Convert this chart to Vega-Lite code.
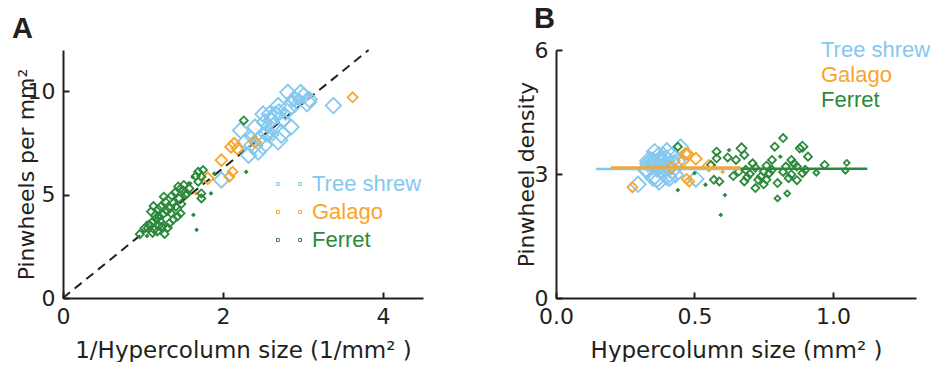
{
  "$schema": "https://vega.github.io/schema/vega-lite/v6.json",
  "background": "white",
  "padding": {"left": 12, "top": 5, "right": 0, "bottom": 0},
  "spacing": 92,
  "config": {
    "view": {"stroke": null},
    "axis": {
      "grid": false,
      "domainColor": "#231f20",
      "domainWidth": 2,
      "tickColor": "#231f20",
      "tickWidth": 2,
      "tickSize": -6,
      "labelFlush": false,
      "labelFont": "DejaVu Sans",
      "labelFontSize": 22,
      "labelColor": "#231f20",
      "titleFont": "DejaVu Sans",
      "titleFontSize": 22,
      "titleFontWeight": "normal",
      "titleColor": "#231f20",
      "labelPadding": 14
    },
    "title": {"font": "Liberation Sans", "fontSize": 29, "fontWeight": "bold", "color": "#231f20", "anchor": "start", "frame": "group"}
  },
  "datasets": {
    "lineA": [{"x": 0, "y": 0}, {"x": 3.82, "y": 12}],
    "fitB": [
      {"species": "Ferret", "x": 0.66, "y": 3.13},
      {"species": "Ferret", "x": 1.124, "y": 3.13},
      {"species": "Tree shrew", "x": 0.144, "y": 3.12},
      {"species": "Tree shrew", "x": 0.667, "y": 3.12},
      {"species": "Galago", "x": 0.198, "y": 3.16},
      {"species": "Galago", "x": 0.667, "y": 3.16}
    ],
    "pointsA": [
      {"species": "Tree shrew", "x": 3.38, "y": 9.31, "w": 4},
      {"species": "Tree shrew", "x": 2.97, "y": 9.87, "w": 5},
      {"species": "Tree shrew", "x": 3.05, "y": 9.47, "w": 5},
      {"species": "Tree shrew", "x": 2.89, "y": 9.63, "w": 4},
      {"species": "Tree shrew", "x": 2.81, "y": 9.15, "w": 5},
      {"species": "Tree shrew", "x": 2.69, "y": 9.31, "w": 4},
      {"species": "Tree shrew", "x": 2.65, "y": 8.83, "w": 5},
      {"species": "Tree shrew", "x": 2.75, "y": 8.59, "w": 4},
      {"species": "Tree shrew", "x": 2.50, "y": 8.90, "w": 4},
      {"species": "Tree shrew", "x": 2.63, "y": 8.27, "w": 5},
      {"species": "Tree shrew", "x": 2.73, "y": 7.95, "w": 5},
      {"species": "Tree shrew", "x": 2.85, "y": 8.27, "w": 4},
      {"species": "Tree shrew", "x": 2.69, "y": 7.63, "w": 5},
      {"species": "Tree shrew", "x": 2.54, "y": 7.95, "w": 4},
      {"species": "Tree shrew", "x": 2.46, "y": 7.71, "w": 4},
      {"species": "Tree shrew", "x": 2.38, "y": 7.39, "w": 5},
      {"species": "Tree shrew", "x": 2.44, "y": 7.07, "w": 4},
      {"species": "Tree shrew", "x": 2.32, "y": 6.91, "w": 4},
      {"species": "Tree shrew", "x": 2.28, "y": 7.55, "w": 4},
      {"species": "Tree shrew", "x": 2.22, "y": 8.11, "w": 4},
      {"species": "Tree shrew", "x": 2.40, "y": 8.27, "w": 4},
      {"species": "Tree shrew", "x": 1.98, "y": 5.71, "w": 4},
      {"species": "Tree shrew", "x": 2.52, "y": 8.51, "w": 4},
      {"species": "Tree shrew", "x": 3.01, "y": 9.79, "w": 4},
      {"species": "Tree shrew", "x": 2.81, "y": 9.95, "w": 4},
      {"species": "Tree shrew", "x": 2.60, "y": 8.60, "w": 4},
      {"species": "Tree shrew", "x": 2.70, "y": 9.00, "w": 4},
      {"species": "Tree shrew", "x": 2.78, "y": 8.90, "w": 3},
      {"species": "Tree shrew", "x": 2.90, "y": 9.30, "w": 3},
      {"species": "Tree shrew", "x": 2.55, "y": 8.30, "w": 3},
      {"species": "Tree shrew", "x": 2.35, "y": 7.80, "w": 3},
      {"species": "Tree shrew", "x": 2.50, "y": 7.40, "w": 5},
      {"species": "Tree shrew", "x": 2.62, "y": 7.90, "w": 3},
      {"species": "Tree shrew", "x": 2.95, "y": 9.60, "w": 3},
      {"species": "Tree shrew", "x": 3.08, "y": 9.60, "w": 4},
      {"species": "Tree shrew", "x": 2.85, "y": 9.50, "w": 3},
      {"species": "Tree shrew", "x": 2.58, "y": 8.90, "w": 4},
      {"species": "Galago", "x": 3.62, "y": 9.71, "w": 2.5},
      {"species": "Galago", "x": 2.14, "y": 7.47, "w": 3},
      {"species": "Galago", "x": 2.10, "y": 7.31, "w": 3},
      {"species": "Galago", "x": 2.18, "y": 7.23, "w": 3},
      {"species": "Galago", "x": 2.40, "y": 7.55, "w": 3},
      {"species": "Galago", "x": 1.98, "y": 6.67, "w": 3},
      {"species": "Galago", "x": 2.12, "y": 6.11, "w": 2.5},
      {"species": "Galago", "x": 2.08, "y": 5.87, "w": 2.5},
      {"species": "Galago", "x": 1.81, "y": 5.79, "w": 3},
      {"species": "Galago", "x": 1.66, "y": 5.06, "w": 1},
      {"species": "Ferret", "x": 0.96, "y": 3.09, "w": 2},
      {"species": "Ferret", "x": 1.02, "y": 3.38, "w": 2},
      {"species": "Ferret", "x": 1.06, "y": 3.38, "w": 2},
      {"species": "Ferret", "x": 1.12, "y": 3.70, "w": 2},
      {"species": "Ferret", "x": 1.10, "y": 4.18, "w": 2},
      {"species": "Ferret", "x": 1.20, "y": 3.94, "w": 2},
      {"species": "Ferret", "x": 1.22, "y": 4.42, "w": 2},
      {"species": "Ferret", "x": 1.26, "y": 4.90, "w": 2},
      {"species": "Ferret", "x": 1.28, "y": 4.66, "w": 2},
      {"species": "Ferret", "x": 1.18, "y": 3.22, "w": 2},
      {"species": "Ferret", "x": 1.24, "y": 3.46, "w": 2},
      {"species": "Ferret", "x": 1.33, "y": 3.62, "w": 2},
      {"species": "Ferret", "x": 1.35, "y": 4.10, "w": 2},
      {"species": "Ferret", "x": 1.41, "y": 4.42, "w": 2},
      {"species": "Ferret", "x": 1.45, "y": 4.82, "w": 2},
      {"species": "Ferret", "x": 1.47, "y": 5.30, "w": 2},
      {"species": "Ferret", "x": 1.51, "y": 5.47, "w": 2},
      {"species": "Ferret", "x": 1.53, "y": 4.99, "w": 2},
      {"species": "Ferret", "x": 1.43, "y": 3.94, "w": 2},
      {"species": "Ferret", "x": 1.47, "y": 4.10, "w": 2},
      {"species": "Ferret", "x": 1.57, "y": 5.54, "w": 1},
      {"species": "Ferret", "x": 1.73, "y": 5.06, "w": 2},
      {"species": "Ferret", "x": 1.73, "y": 5.87, "w": 2},
      {"species": "Ferret", "x": 1.69, "y": 6.11, "w": 2},
      {"species": "Ferret", "x": 1.75, "y": 6.19, "w": 2},
      {"species": "Ferret", "x": 1.69, "y": 5.63, "w": 2},
      {"species": "Ferret", "x": 1.63, "y": 4.02, "w": 1},
      {"species": "Ferret", "x": 1.67, "y": 3.30, "w": 1},
      {"species": "Ferret", "x": 1.85, "y": 5.06, "w": 1},
      {"species": "Ferret", "x": 1.59, "y": 5.54, "w": 1},
      {"species": "Ferret", "x": 1.73, "y": 4.82, "w": 2},
      {"species": "Ferret", "x": 1.89, "y": 6.02, "w": 1},
      {"species": "Ferret", "x": 2.26, "y": 8.59, "w": 2},
      {"species": "Ferret", "x": 2.29, "y": 6.10, "w": 1},
      {"species": "Ferret", "x": 1.00, "y": 3.20, "w": 1},
      {"species": "Ferret", "x": 1.08, "y": 3.55, "w": 2},
      {"species": "Ferret", "x": 1.14, "y": 3.30, "w": 2},
      {"species": "Ferret", "x": 1.16, "y": 3.85, "w": 2},
      {"species": "Ferret", "x": 1.19, "y": 4.30, "w": 2},
      {"species": "Ferret", "x": 1.22, "y": 3.70, "w": 2},
      {"species": "Ferret", "x": 1.30, "y": 4.20, "w": 2},
      {"species": "Ferret", "x": 1.31, "y": 3.40, "w": 2},
      {"species": "Ferret", "x": 1.15, "y": 4.00, "w": 2},
      {"species": "Ferret", "x": 1.38, "y": 4.60, "w": 2},
      {"species": "Ferret", "x": 1.40, "y": 5.10, "w": 2},
      {"species": "Ferret", "x": 1.48, "y": 4.55, "w": 2},
      {"species": "Ferret", "x": 1.50, "y": 5.20, "w": 2},
      {"species": "Ferret", "x": 1.55, "y": 5.05, "w": 2},
      {"species": "Ferret", "x": 1.44, "y": 5.40, "w": 2},
      {"species": "Ferret", "x": 1.38, "y": 3.80, "w": 2},
      {"species": "Ferret", "x": 1.27, "y": 3.10, "w": 2},
      {"species": "Ferret", "x": 1.12, "y": 3.15, "w": 2},
      {"species": "Ferret", "x": 1.05, "y": 3.65, "w": 1},
      {"species": "Ferret", "x": 1.36, "y": 4.95, "w": 2},
      {"species": "Ferret", "x": 1.66, "y": 5.90, "w": 2},
      {"species": "Ferret", "x": 1.62, "y": 5.85, "w": 1},
      {"species": "Ferret", "x": 1.58, "y": 5.30, "w": 2},
      {"species": "Ferret", "x": 1.25, "y": 4.05, "w": 2},
      {"species": "Ferret", "x": 1.33, "y": 4.35, "w": 2},
      {"species": "Ferret", "x": 1.13, "y": 4.45, "w": 2},
      {"species": "Ferret", "x": 1.05, "y": 3.00, "w": 1},
      {"species": "Ferret", "x": 1.20, "y": 3.50, "w": 2}
    ],
    "pointsB": [
      {"species": "Tree shrew", "x": 0.296, "y": 2.75, "w": 4},
      {"species": "Tree shrew", "x": 0.337, "y": 3.32, "w": 5},
      {"species": "Tree shrew", "x": 0.328, "y": 3.10, "w": 5},
      {"species": "Tree shrew", "x": 0.346, "y": 3.33, "w": 4},
      {"species": "Tree shrew", "x": 0.356, "y": 3.26, "w": 5},
      {"species": "Tree shrew", "x": 0.372, "y": 3.46, "w": 4},
      {"species": "Tree shrew", "x": 0.377, "y": 3.33, "w": 5},
      {"species": "Tree shrew", "x": 0.364, "y": 3.12, "w": 4},
      {"species": "Tree shrew", "x": 0.400, "y": 3.56, "w": 4},
      {"species": "Tree shrew", "x": 0.380, "y": 3.14, "w": 5},
      {"species": "Tree shrew", "x": 0.366, "y": 2.91, "w": 5},
      {"species": "Tree shrew", "x": 0.351, "y": 2.90, "w": 4},
      {"species": "Tree shrew", "x": 0.372, "y": 2.84, "w": 5},
      {"species": "Tree shrew", "x": 0.394, "y": 3.13, "w": 4},
      {"species": "Tree shrew", "x": 0.407, "y": 3.13, "w": 4},
      {"species": "Tree shrew", "x": 0.420, "y": 3.11, "w": 5},
      {"species": "Tree shrew", "x": 0.410, "y": 2.90, "w": 4},
      {"species": "Tree shrew", "x": 0.431, "y": 2.98, "w": 4},
      {"species": "Tree shrew", "x": 0.439, "y": 3.31, "w": 4},
      {"species": "Tree shrew", "x": 0.450, "y": 3.65, "w": 4},
      {"species": "Tree shrew", "x": 0.417, "y": 3.45, "w": 4},
      {"species": "Tree shrew", "x": 0.505, "y": 2.88, "w": 4},
      {"species": "Tree shrew", "x": 0.397, "y": 3.38, "w": 4},
      {"species": "Tree shrew", "x": 0.332, "y": 3.25, "w": 4},
      {"species": "Tree shrew", "x": 0.356, "y": 3.54, "w": 4},
      {"species": "Tree shrew", "x": 0.385, "y": 3.31, "w": 4},
      {"species": "Tree shrew", "x": 0.370, "y": 3.33, "w": 4},
      {"species": "Tree shrew", "x": 0.360, "y": 3.20, "w": 3},
      {"species": "Tree shrew", "x": 0.345, "y": 3.21, "w": 3},
      {"species": "Tree shrew", "x": 0.392, "y": 3.25, "w": 3},
      {"species": "Tree shrew", "x": 0.426, "y": 3.32, "w": 3},
      {"species": "Tree shrew", "x": 0.400, "y": 2.96, "w": 5},
      {"species": "Tree shrew", "x": 0.382, "y": 3.02, "w": 3},
      {"species": "Tree shrew", "x": 0.339, "y": 3.25, "w": 3},
      {"species": "Tree shrew", "x": 0.325, "y": 3.12, "w": 4},
      {"species": "Tree shrew", "x": 0.351, "y": 3.33, "w": 3},
      {"species": "Tree shrew", "x": 0.388, "y": 3.45, "w": 4},
      {"species": "Galago", "x": 0.276, "y": 2.68, "w": 2.5},
      {"species": "Galago", "x": 0.467, "y": 3.49, "w": 3},
      {"species": "Galago", "x": 0.476, "y": 3.48, "w": 3},
      {"species": "Galago", "x": 0.459, "y": 3.32, "w": 3},
      {"species": "Galago", "x": 0.417, "y": 3.15, "w": 3},
      {"species": "Galago", "x": 0.505, "y": 3.37, "w": 3},
      {"species": "Galago", "x": 0.472, "y": 2.88, "w": 2.5},
      {"species": "Galago", "x": 0.481, "y": 2.82, "w": 2.5},
      {"species": "Galago", "x": 0.552, "y": 3.20, "w": 3},
      {"species": "Galago", "x": 0.602, "y": 3.05, "w": 1},
      {"species": "Ferret", "x": 0.44, "y": 3.66, "w": 2},
      {"species": "Ferret", "x": 0.44, "y": 2.61, "w": 1},
      {"species": "Ferret", "x": 0.50, "y": 3.02, "w": 1},
      {"species": "Ferret", "x": 0.54, "y": 2.74, "w": 1},
      {"species": "Ferret", "x": 0.58, "y": 3.54, "w": 2},
      {"species": "Ferret", "x": 0.58, "y": 3.38, "w": 2},
      {"species": "Ferret", "x": 0.57, "y": 2.86, "w": 2},
      {"species": "Ferret", "x": 0.59, "y": 2.82, "w": 2},
      {"species": "Ferret", "x": 0.56, "y": 3.22, "w": 2},
      {"species": "Ferret", "x": 0.625, "y": 3.58, "w": 1},
      {"species": "Ferret", "x": 0.61, "y": 2.49, "w": 1},
      {"species": "Ferret", "x": 0.595, "y": 2.01, "w": 1},
      {"species": "Ferret", "x": 0.67, "y": 3.62, "w": 2.5},
      {"species": "Ferret", "x": 0.65, "y": 3.34, "w": 2},
      {"species": "Ferret", "x": 0.68, "y": 3.46, "w": 2},
      {"species": "Ferret", "x": 0.66, "y": 3.06, "w": 2},
      {"species": "Ferret", "x": 0.685, "y": 3.10, "w": 2},
      {"species": "Ferret", "x": 0.68, "y": 2.82, "w": 2},
      {"species": "Ferret", "x": 0.71, "y": 3.26, "w": 2},
      {"species": "Ferret", "x": 0.72, "y": 2.66, "w": 2},
      {"species": "Ferret", "x": 0.74, "y": 2.94, "w": 2},
      {"species": "Ferret", "x": 0.75, "y": 3.06, "w": 2},
      {"species": "Ferret", "x": 0.73, "y": 2.86, "w": 2},
      {"species": "Ferret", "x": 0.76, "y": 2.86, "w": 2},
      {"species": "Ferret", "x": 0.78, "y": 3.34, "w": 2},
      {"species": "Ferret", "x": 0.79, "y": 3.66, "w": 2},
      {"species": "Ferret", "x": 0.82, "y": 3.87, "w": 2},
      {"species": "Ferret", "x": 0.77, "y": 3.02, "w": 2},
      {"species": "Ferret", "x": 0.80, "y": 2.41, "w": 1.5},
      {"species": "Ferret", "x": 0.81, "y": 3.42, "w": 1},
      {"species": "Ferret", "x": 0.80, "y": 2.78, "w": 2},
      {"species": "Ferret", "x": 0.835, "y": 2.53, "w": 1.5},
      {"species": "Ferret", "x": 0.83, "y": 3.18, "w": 2},
      {"species": "Ferret", "x": 0.85, "y": 3.34, "w": 2},
      {"species": "Ferret", "x": 0.85, "y": 2.99, "w": 2},
      {"species": "Ferret", "x": 0.87, "y": 3.18, "w": 2},
      {"species": "Ferret", "x": 0.88, "y": 3.62, "w": 2},
      {"species": "Ferret", "x": 0.89, "y": 3.66, "w": 2.5},
      {"species": "Ferret", "x": 0.89, "y": 3.02, "w": 2},
      {"species": "Ferret", "x": 0.91, "y": 3.42, "w": 2},
      {"species": "Ferret", "x": 0.94, "y": 3.03, "w": 1.5},
      {"species": "Ferret", "x": 0.97, "y": 3.22, "w": 2},
      {"species": "Ferret", "x": 1.045, "y": 3.08, "w": 1.5},
      {"species": "Ferret", "x": 1.05, "y": 3.27, "w": 1.5},
      {"species": "Ferret", "x": 0.84, "y": 2.90, "w": 2},
      {"species": "Ferret", "x": 0.70, "y": 3.00, "w": 2},
      {"species": "Ferret", "x": 0.75, "y": 2.75, "w": 2},
      {"species": "Ferret", "x": 0.78, "y": 3.10, "w": 2},
      {"species": "Ferret", "x": 0.86, "y": 3.25, "w": 2},
      {"species": "Ferret", "x": 0.72, "y": 3.15, "w": 2},
      {"species": "Ferret", "x": 0.62, "y": 3.40, "w": 2},
      {"species": "Ferret", "x": 0.64, "y": 2.95, "w": 2},
      {"species": "Ferret", "x": 0.82, "y": 3.05, "w": 2},
      {"species": "Ferret", "x": 0.90, "y": 3.10, "w": 2},
      {"species": "Ferret", "x": 0.76, "y": 3.20, "w": 2},
      {"species": "Ferret", "x": 0.69, "y": 2.92, "w": 2},
      {"species": "Ferret", "x": 0.87, "y": 2.85, "w": 2}
    ]
  },
  "resolve": {"scale": {"color": "shared", "size": "shared"}, "legend": {"color": "independent"}},
  "hconcat": [
    {
      "width": 360,
      "height": 248,
      "title": {"text": "A", "dx": -51, "offset": 2},
      "layer": [
        {
          "data": {"name": "lineA"},
          "mark": {"type": "line", "color": "#231f20", "strokeDash": [9, 6], "strokeWidth": 2},
          "encoding": {
            "x": {"field": "x", "type": "quantitative", "scale": {"domain": [0, 4.4]}, "axis": {"values": [0, 2, 4], "format": "d", "title": "1/Hypercolumn size (1/mm² )", "titleFontSize": 23, "titlePadding": 12}},
            "y": {"field": "y", "type": "quantitative", "scale": {"domain": [0, 12]}, "axis": {"values": [0, 5, 10], "format": "d", "title": "Pinwheels per mm²", "titlePadding": -11}}
          }
        },
        {
          "data": {"name": "pointsA"},
          "mark": {"type": "point", "shape": "diamond", "filled": false, "strokeWidth": 1.8, "opacity": 1},
          "encoding": {
            "x": {"field": "x", "type": "quantitative"},
            "y": {"field": "y", "type": "quantitative"},
            "color": {
              "field": "species", "type": "nominal",
              "scale": {"domain": ["Tree shrew", "Galago", "Ferret"], "range": ["#85c8ef", "#f8a52c", "#2b893c"]},
              "legend": {
                "title": null, "orient": "none", "legendX": 213, "legendY": 121, "padding": 0,
                "symbolType": "M-1,-0.12H-0.78V0.12H-1Z M0.78,-0.12H1V0.12H0.78Z",
                "symbolSize": 625, "symbolStrokeWidth": 1, "labelOffset": 10, "rowPadding": 4,
                "labelFont": "Liberation Sans", "labelFontSize": 22,
                "labelColor": {"expr": "datum.value === 'Tree shrew' ? '#85c8ef' : datum.value === 'Galago' ? '#f8a52c' : '#2b893c'"}
              }
            },
            "size": {"field": "w", "type": "quantitative", "scale": {"domain": [1, 2, 3, 4, 5], "range": [5, 64, 135, 240, 340]}, "legend": null}
          }
        }
      ]
    },
    {
      "width": 360,
      "height": 248,
      "title": {"text": "B", "dx": -22, "offset": 2},
      "layer": [
        {
          "data": {"name": "pointsB"},
          "mark": {"type": "point", "shape": "diamond", "filled": false, "strokeWidth": 1.8, "opacity": 1},
          "encoding": {
            "x": {"field": "x", "type": "quantitative", "scale": {"domain": [0, 1.3]}, "axis": {"values": [0, 0.5, 1], "format": ".1f", "title": "Hypercolumn size (mm² )", "titleFontSize": 23, "titlePadding": 12}},
            "y": {"field": "y", "type": "quantitative", "scale": {"domain": [0, 6]}, "axis": {"values": [0, 3, 6], "format": "d", "title": "Pinwheel density", "titlePadding": -4}},
            "color": {
              "field": "species", "type": "nominal",
              "legend": {
                "title": null, "orient": "none", "legendX": 228, "legendY": -14, "padding": 0,
                "symbolType": "M-1,-0.12H-0.78V0.12H-1Z M0.78,-0.12H1V0.12H0.78Z",
                "symbolSize": 625, "symbolOpacity": 0, "labelOffset": 10, "rowPadding": 0,
                "labelFont": "Liberation Sans", "labelFontSize": 22,
                "labelColor": {"expr": "datum.value === 'Tree shrew' ? '#85c8ef' : datum.value === 'Galago' ? '#f8a52c' : '#2b893c'"}
              }
            },
            "size": {"field": "w", "type": "quantitative", "legend": null}
          }
        },
        {
          "data": {"name": "fitB"},
          "mark": {"type": "line", "strokeWidth": 2.5},
          "encoding": {
            "x": {"field": "x", "type": "quantitative"},
            "y": {"field": "y", "type": "quantitative"},
            "color": {"field": "species", "type": "nominal", "legend": null},
            "detail": {"field": "species"}
          }
        }
      ]
    }
  ]
}
